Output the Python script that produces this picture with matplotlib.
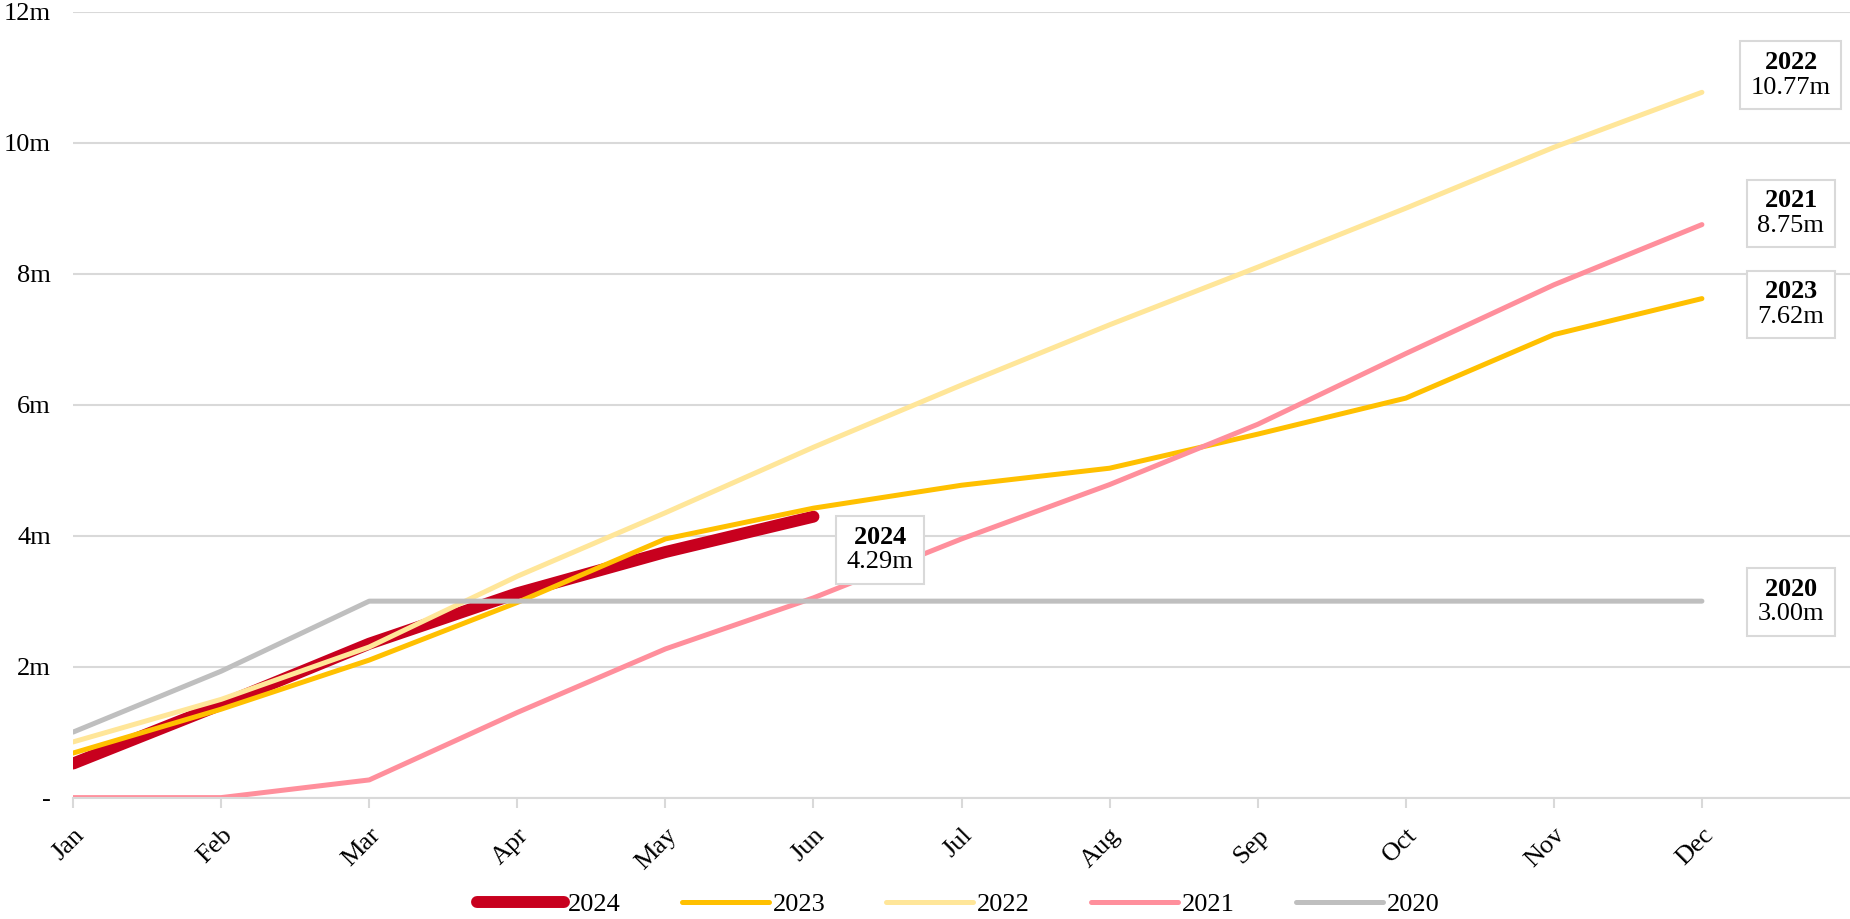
import matplotlib
matplotlib.use('Agg')
import matplotlib.pyplot as plt

# === Data (cumulative, in millions) ===
months = ["Jan", "Feb", "Mar", "Apr", "May", "Jun",
          "Jul", "Aug", "Sep", "Oct", "Nov", "Dec"]
y2024 = [0.52, 1.42, 2.35, 3.12, 3.75, 4.29]
y2023 = [0.68, 1.35, 2.10, 2.98, 3.95, 4.42, 4.77, 5.03, 5.55, 6.10, 7.07, 7.62]
y2022 = [0.85, 1.50, 2.30, 3.38, 4.35, 5.35, 6.30, 7.22, 8.10, 9.00, 9.93, 10.77]
y2021 = [0.00, 0.00, 0.27, 1.30, 2.27, 3.05, 3.95, 4.78, 5.70, 6.78, 7.83, 8.75]
y2020 = [1.00, 1.93, 3.00, 3.00, 3.00, 3.00, 3.00, 3.00, 3.00, 3.00, 3.00, 3.00]
y_ticks = [0, 2, 4, 6, 8, 10, 12]

# === Style ===
plt.rcParams['font.family'] = ['Liberation Serif', 'DejaVu Serif']
plt.rcParams['mathtext.fontset'] = 'custom'
plt.rcParams['mathtext.bf'] = 'Liberation Serif:bold'
plt.rcParams['mathtext.rm'] = 'Liberation Serif'
fs = 19
grid_col = "#d9d9d9"

series = [
    ("2024", y2024, "#c8001e", 8.6),
    ("2023", y2023, "#ffc000", 3.6),
    ("2022", y2022, "#ffe699", 3.6),
    ("2021", y2021, "#ff8f9c", 3.6),
    ("2020", y2020, "#bfbfbf", 3.6),
]

fig = plt.figure(figsize=(18.5, 9.19), dpi=100)
ax = fig.add_axes([0.0395, 0.1321, 0.9605, 0.8551])

# later series are drawn on top of the thick 2024 line
x_all = list(range(len(months)))
for name, vals, col, lw in series:
    ax.plot(x_all[:len(vals)], vals, color=col, lw=lw, label=name,
            solid_capstyle='round', solid_joinstyle='round')

ax.set_xlim(0, 12)
ax.set_ylim(0, 12)
ax.set_xticks(x_all)
ax.set_xticklabels(months, rotation=45, ha='right', rotation_mode='anchor', fontsize=fs)
ax.set_yticks(y_ticks)
ax.set_yticklabels(["-" if v == 0 else f"{v}m" for v in y_ticks], fontsize=fs)

ax.grid(axis='y', color=grid_col, lw=1.5)
ax.set_axisbelow(True)
for s in ["top", "right", "left"]:
    ax.spines[s].set_visible(False)
ax.spines["bottom"].set_color(grid_col)
ax.spines["bottom"].set_linewidth(1.5)
ax.tick_params(axis='y', length=0, pad=16)
ax.tick_params(axis='x', length=7, width=1.5, color=grid_col, pad=12)

# === End labels ===
label_pos = {
    "2024": (5.45, 3.78),
    "2023": (11.6, 7.53),
    "2022": (11.6, 11.03),
    "2021": (11.6, 8.92),
    "2020": (11.6, 2.99),
}
for name, vals, col, lw in series:
    lx, ly = label_pos[name]
    val = f"{vals[-1]:.2f}m"
    ax.text(lx, ly, f"$\\mathbf{{{name}}}$\n{val}", ha='center', va='center',
            fontsize=fs, linespacing=1.15, zorder=8,
            bbox=dict(boxstyle='square,pad=0.4', fc='white', ec=grid_col, lw=1.5))

fig.legend(loc='center', bbox_to_anchor=(0.518, 0.016), ncol=5, frameon=False,
           fontsize=fs, handlelength=3.3, handletextpad=0.15, columnspacing=2.3)

plt.savefig("out.png", dpi=100)
